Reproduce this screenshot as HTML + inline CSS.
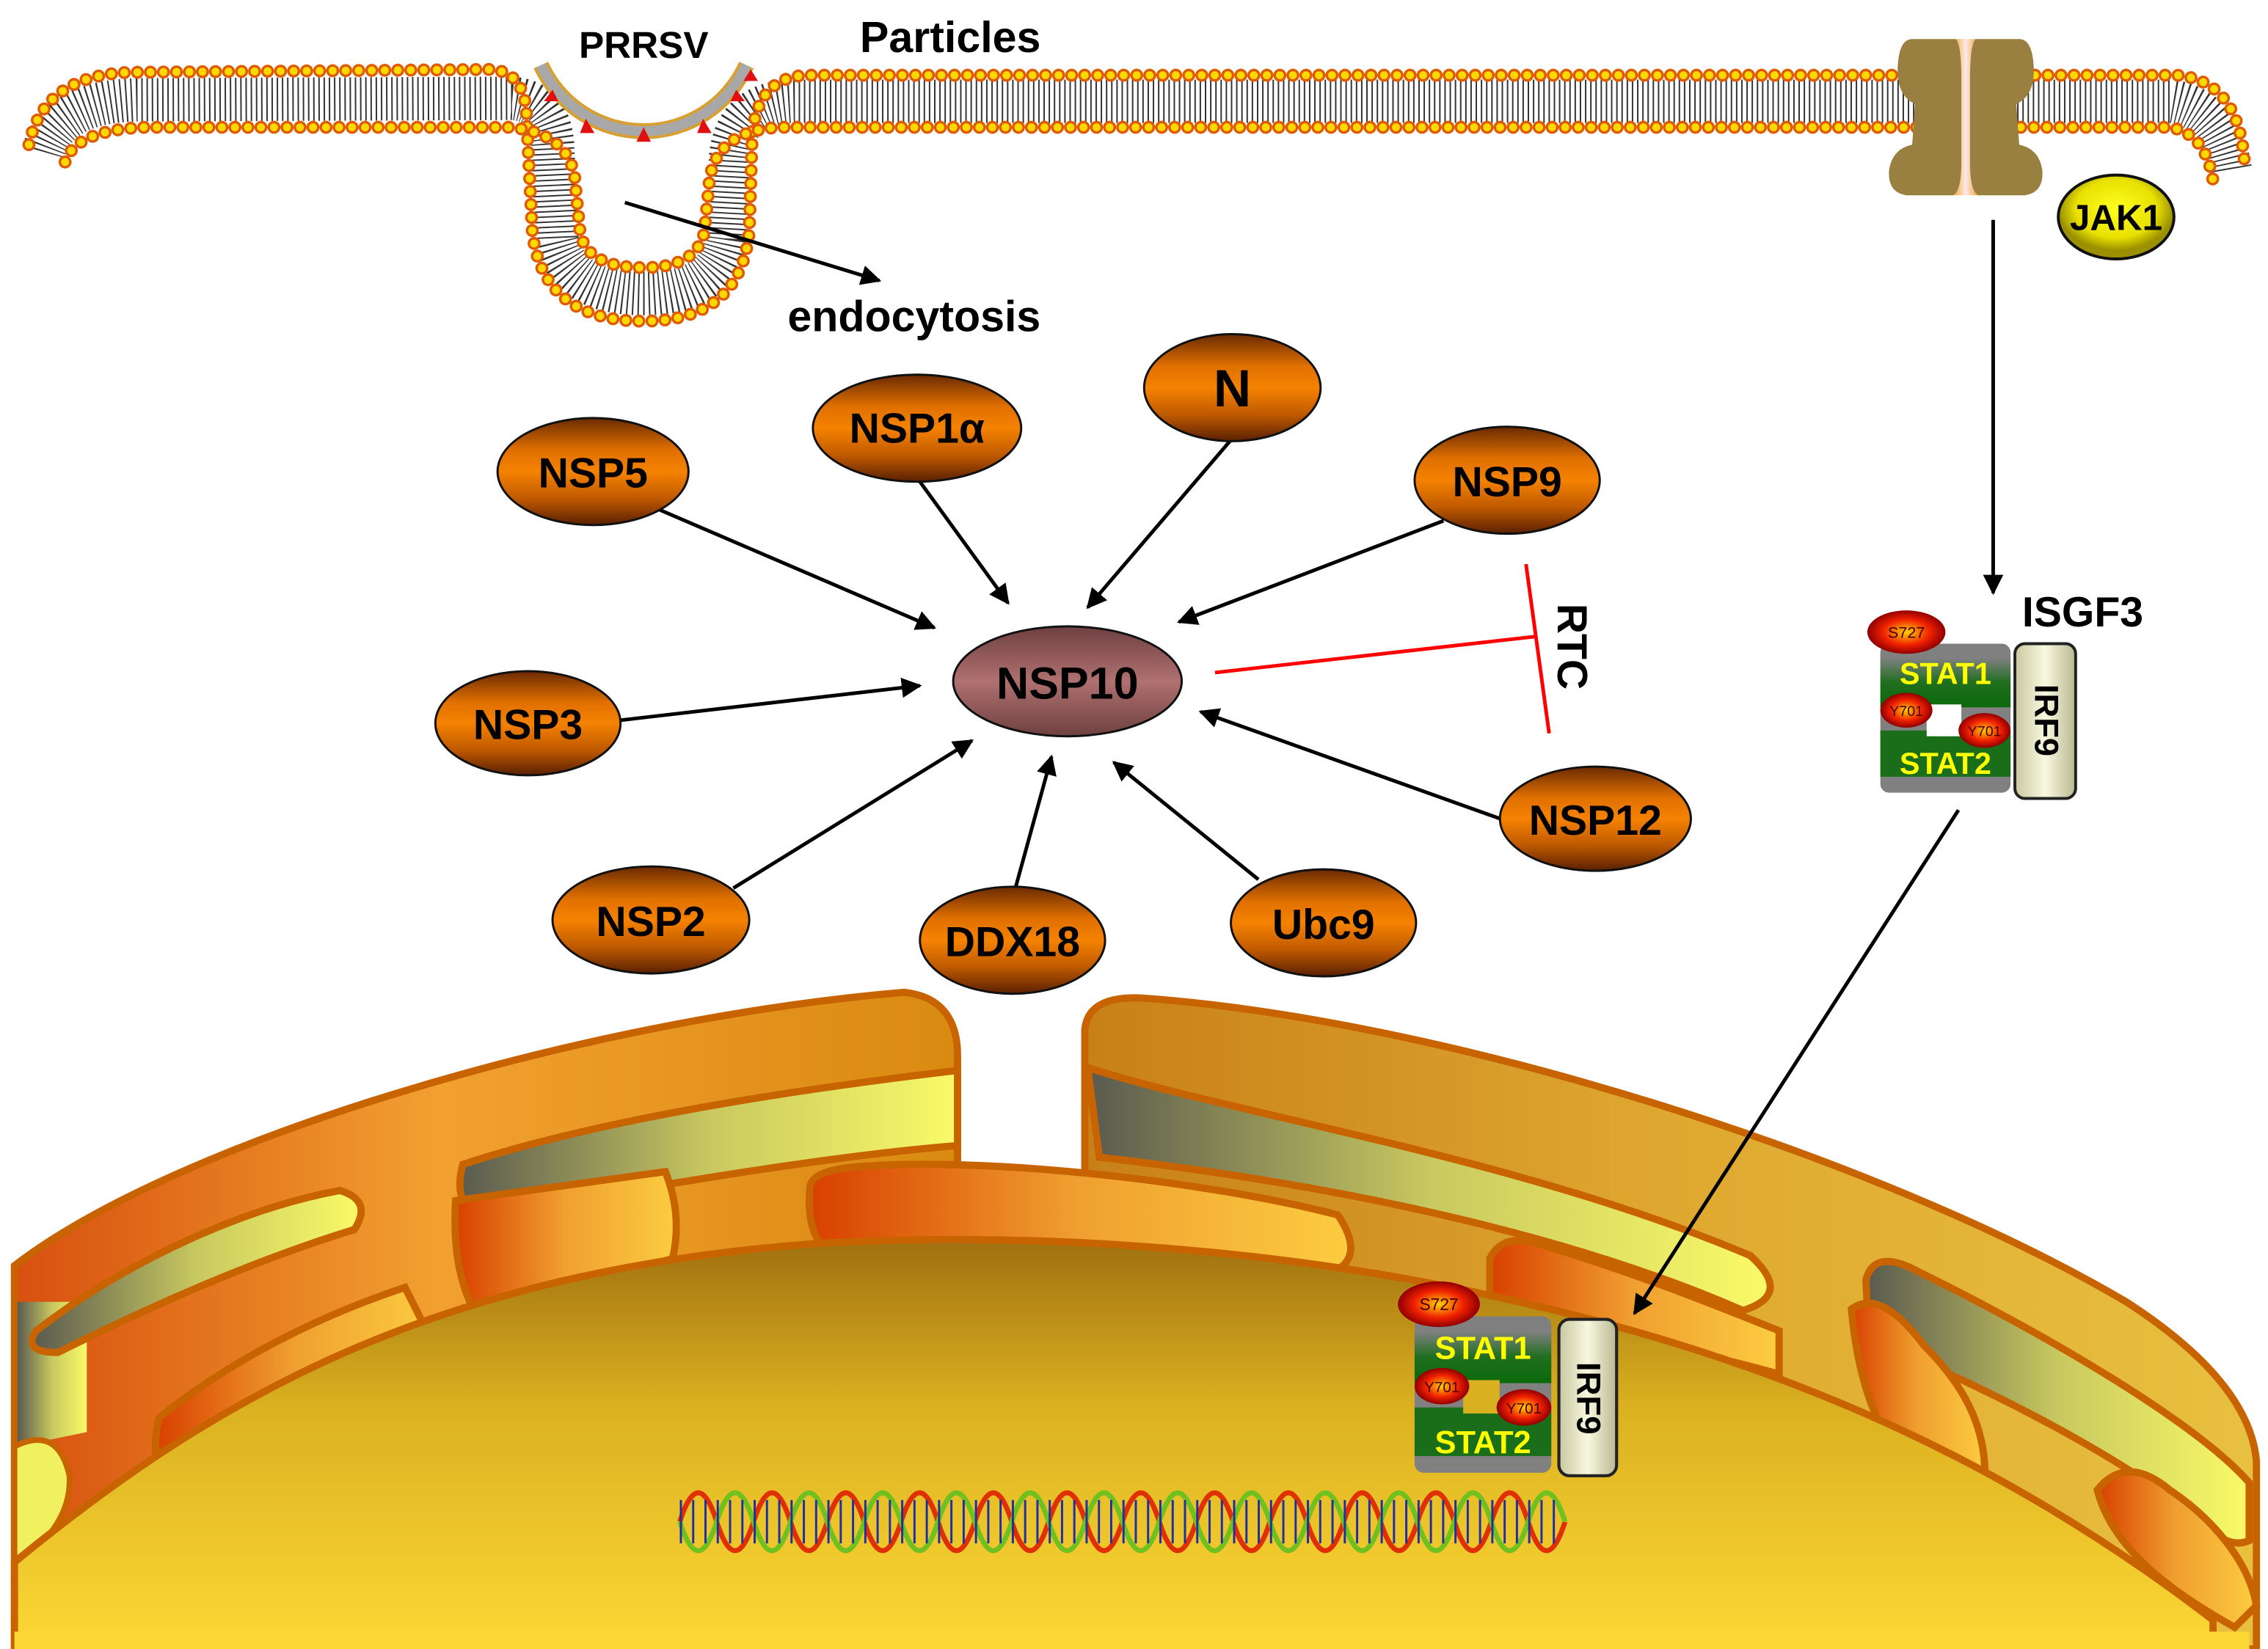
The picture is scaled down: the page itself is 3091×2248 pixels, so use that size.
<!DOCTYPE html>
<html><head><meta charset="utf-8"><style>html,body{margin:0;padding:0;background:#fff}svg{display:block}</style></head>
<body>
<svg width="3091" height="2248" viewBox="0 0 1568 1140" preserveAspectRatio="none" xmlns="http://www.w3.org/2000/svg" font-family="Liberation Sans, sans-serif">
<defs>
<linearGradient id="og" x1="0" y1="0" x2="0" y2="1"><stop offset="0" stop-color="#6a2a00"/><stop offset="0.3" stop-color="#e07000"/><stop offset="0.5" stop-color="#f58200"/><stop offset="0.75" stop-color="#c05a00"/><stop offset="1" stop-color="#5a2000"/></linearGradient>
<linearGradient id="pg" x1="0" y1="0" x2="0" y2="1"><stop offset="0" stop-color="#6e4040"/><stop offset="0.5" stop-color="#b07070"/><stop offset="1" stop-color="#6e4040"/></linearGradient>
<radialGradient id="rg"><stop offset="0" stop-color="#ffd000"/><stop offset="0.6" stop-color="#f02000"/><stop offset="1" stop-color="#900000"/></radialGradient>
<radialGradient id="yg" cx="0.5" cy="0.4"><stop offset="0" stop-color="#ffff20"/><stop offset="0.7" stop-color="#e8e000"/><stop offset="1" stop-color="#9a9000"/></radialGradient>
<linearGradient id="stg" x1="0" y1="0" x2="0" y2="1"><stop offset="0" stop-color="#808080"/><stop offset="0.5" stop-color="#1f6e1f"/><stop offset="1" stop-color="#0a6a0a"/></linearGradient>
<linearGradient id="irf" x1="0" y1="0" x2="1" y2="0"><stop offset="0" stop-color="#c8c8a0"/><stop offset="0.5" stop-color="#f8f8e0"/><stop offset="1" stop-color="#b8b890"/></linearGradient>
<linearGradient id="leftS" x1="0" y1="0" x2="1" y2="0"><stop offset="0" stop-color="#d85010"/><stop offset="0.45" stop-color="#f2a030"/><stop offset="1" stop-color="#d98a10"/></linearGradient>
<linearGradient id="rightS" x1="0" y1="0" x2="1" y2="0"><stop offset="0" stop-color="#c88018"/><stop offset="0.5" stop-color="#dfa830"/><stop offset="1" stop-color="#e8c040"/></linearGradient>
<linearGradient id="slot" x1="0" y1="0" x2="1" y2="0"><stop offset="0" stop-color="#5a5a50"/><stop offset="0.5" stop-color="#c8c860"/><stop offset="1" stop-color="#fafa68"/></linearGradient>
<linearGradient id="lobe" x1="0" y1="0" x2="1" y2="0"><stop offset="0" stop-color="#d84000"/><stop offset="0.5" stop-color="#f0a030"/><stop offset="1" stop-color="#fccc40"/></linearGradient>
<linearGradient id="nuc" x1="0" y1="0" x2="0" y2="1"><stop offset="0" stop-color="#a07010"/><stop offset="0.4" stop-color="#dab020"/><stop offset="1" stop-color="#fdd835"/></linearGradient>
<linearGradient id="chan" x1="0" y1="0" x2="1" y2="0"><stop offset="0" stop-color="#f0a030"/><stop offset="0.5" stop-color="#fde8e8"/><stop offset="1" stop-color="#f0a030"/></linearGradient>
<marker id="ahs" viewBox="0 0 10 10" refX="9" refY="5" markerWidth="14" markerHeight="14" orient="auto" markerUnits="userSpaceOnUse"><path d="M0,0 L10,5 L0,10 Z" fill="#000"/></marker>
</defs>

<!-- ER / nuclear envelope -->
<path d="M10,875 C120,790 400,705 625,686 Q662,690 662,730 L662,1140 L10,1140 Z" fill="url(#leftS)" stroke="#c86400" stroke-width="5"/>
<path d="M750,712 Q752,688 790,690 C1000,705 1300,800 1470,900 Q1555,955 1560,1010 L1560,1140 L750,1140 Z" fill="url(#rightS)" stroke="#c86400" stroke-width="5"/>
<path d="M12,900 L12,1000 L60,990 L60,900 Z" fill="url(#slot)"/>
<path d="M25,920 Q15,935 40,935 C110,900 180,870 245,850 Q258,830 235,823 C170,835 90,870 25,920 Z" fill="url(#slot)" stroke="#c86400" stroke-width="5"/>
<path d="M320,805 Q312,835 335,840 C420,826 560,800 662,792 L662,740 C560,752 420,772 320,805 Z" fill="url(#slot)" stroke="#c86400" stroke-width="5"/>
<path d="M752,738 C850,770 1050,800 1210,868 Q1240,895 1205,906 C1100,860 950,822 760,800 Z" fill="url(#slot)" stroke="#c86400" stroke-width="5"/>
<path d="M1290,885 Q1295,865 1320,876 C1420,925 1520,985 1555,1025 L1555,1065 Q1540,1072 1520,1050 C1450,995 1350,950 1292,925 Z" fill="url(#slot)" stroke="#c86400" stroke-width="5"/>
<path d="M315,830 L460,810 Q472,840 465,870 L330,910 Q312,880 315,830 Z" fill="url(#lobe)" stroke="#c86400" stroke-width="5"/>
<path d="M110,980 C160,940 220,910 280,890 L300,930 C230,960 170,1000 130,1040 Q100,1020 110,980 Z" fill="url(#lobe)" stroke="#c86400" stroke-width="5"/>
<path d="M560,820 Q562,808 600,806 C700,800 850,820 925,840 Q945,870 920,880 C850,870 700,860 600,870 Q555,875 560,820 Z" fill="url(#lobe)" stroke="#c86400" stroke-width="5"/>
<path d="M1030,870 Q1040,850 1070,862 C1130,880 1180,900 1230,920 L1230,950 C1160,930 1090,920 1030,900 Z" fill="url(#lobe)" stroke="#c86400" stroke-width="5"/>
<path d="M1280,905 Q1300,890 1330,930 C1360,960 1375,990 1372,1030 Q1360,1045 1335,1030 C1300,1000 1285,960 1280,905 Z" fill="url(#lobe)" stroke="#c86400" stroke-width="5"/>
<path d="M1450,1030 Q1470,1005 1500,1030 C1530,1050 1555,1080 1560,1110 L1545,1125 C1500,1100 1460,1070 1450,1030 Z" fill="url(#lobe)" stroke="#c86400" stroke-width="5"/>
<path d="M10,1000 Q40,985 48,1020 Q50,1050 20,1075 L10,1078 Z" fill="#f0f060" stroke="#c86400" stroke-width="4"/>
<path d="M10,1080 C150,965 300,880 560,860 C720,850 900,865 1050,900 C1250,945 1400,1020 1530,1120 L1530,1140 L10,1140 Z" fill="url(#nuc)" stroke="#c86400" stroke-width="5"/>
<rect x="10" y="1128" width="1545" height="12" fill="#fdd835"/>

<!-- DNA -->
<g fill="none" stroke-width="3.5">
<path d="M470,1052 q12.75,-40 25.5,0 t25.5,0 t25.5,0 t25.5,0 t25.5,0 t25.5,0 t25.5,0 t25.5,0 t25.5,0 t25.5,0 t25.5,0 t25.5,0 t25.5,0 t25.5,0 t25.5,0 t25.5,0 t25.5,0 t25.5,0 t25.5,0 t25.5,0 t25.5,0 t25.5,0 t25.5,0 t25.5,0" stroke="#e03000"/>
<path d="M470,1052 q12.75,40 25.5,0 t25.5,0 t25.5,0 t25.5,0 t25.5,0 t25.5,0 t25.5,0 t25.5,0 t25.5,0 t25.5,0 t25.5,0 t25.5,0 t25.5,0 t25.5,0 t25.5,0 t25.5,0 t25.5,0 t25.5,0 t25.5,0 t25.5,0 t25.5,0 t25.5,0 t25.5,0 t25.5,0" stroke="#70c020"/>
<line x1="470" y1="1052" x2="1080" y2="1052" stroke="#2030a0" stroke-width="30" stroke-dasharray="1.5 7"/>
</g>

<!-- Membrane -->
<g fill="none">
<path d="M30,105 Q40,70 95,69 L354,68 Q380,70 382,100 L385,165 Q392,203 445,203 Q497,203 502,165 L505,110 Q508,70 550,70 L1500,70 Q1535,74 1542,118" stroke="#333" stroke-width="30" stroke-dasharray="1 2.6"/>
<path d="M20,100 Q30,52 90,50 L340,48 Q363,50 364,80 L368,160 Q375,222 445,222 Q512,222 518,160 L520,95 Q523,52 560,52 L1505,52 Q1550,56 1552,118" stroke="#e05a00" stroke-width="9" stroke-linecap="round" stroke-dasharray="0 9"/>
<path d="M20,100 Q30,52 90,50 L340,48 Q363,50 364,80 L368,160 Q375,222 445,222 Q512,222 518,160 L520,95 Q523,52 560,52 L1505,52 Q1550,56 1552,118" stroke="#ffd800" stroke-width="5.5" stroke-linecap="round" stroke-dasharray="0 9"/>
<path d="M45,112 Q52,90 100,88 L352,88 Q397,92 398,130 L401,160 Q405,185 445,185 Q482,185 487,160 L490,130 Q492,90 540,88 L1500,88 Q1525,92 1530,125" stroke="#e05a00" stroke-width="9" stroke-linecap="round" stroke-dasharray="0 9"/>
<path d="M45,112 Q52,90 100,88 L352,88 Q397,92 398,130 L401,160 Q405,185 445,185 Q482,185 487,160 L490,130 Q492,90 540,88 L1500,88 Q1525,92 1530,125" stroke="#ffd800" stroke-width="5.5" stroke-linecap="round" stroke-dasharray="0 9"/>
</g>
<rect x="365" y="0" width="160" height="44" fill="#fff"/>
<path d="M374,45 A78,78 0 0 0 516,45" fill="none" stroke="#d8a030" stroke-width="11"/>
<path d="M374,45 A78,78 0 0 0 516,45" fill="none" stroke="#a8a8a8" stroke-width="7"/>
<g fill="#e01010"><path d="M382,62 l-6,8 h10z"/><path d="M405,82 l-4,10 h10z"/><path d="M445,88 l-5,10 h10z"/><path d="M486,82 l-4,10 h10z"/><path d="M509,62 l-4,8 h10z"/><path d="M519,48 l-5,8 h10z"/></g>

<!-- channel -->
<rect x="1350" y="27" width="18" height="108" fill="url(#chan)"/>
<path d="M1322,27 L1352,27 Q1356,30 1356,55 L1356,112 Q1356,133 1350,135 L1318,135 Q1305,133 1306,118 Q1308,103 1322,100 L1324,72 Q1311,66 1312,46 Q1313,27 1322,27 Z" fill="#9a8040"/>
<path d="M1396,27 L1366,27 Q1362,30 1362,55 L1362,112 Q1362,133 1368,135 L1400,135 Q1413,133 1412,118 Q1410,103 1396,100 L1394,72 Q1407,66 1406,46 Q1405,27 1396,27 Z" fill="#9a8040"/>
<ellipse cx="1463" cy="150" rx="40" ry="29" fill="url(#yg)" stroke="#111" stroke-width="2"/>
<text x="1463" y="159" font-size="25" font-weight="bold" text-anchor="middle">JAK1</text>

<text x="445" y="40" font-size="26" font-weight="bold" text-anchor="middle">PRRSV</text>
<text x="657" y="36" font-size="30" font-weight="bold" text-anchor="middle">Particles</text>
<text x="632" y="229" font-size="30" font-weight="bold" text-anchor="middle">endocytosis</text>
<line x1="432" y1="140" x2="608" y2="194" stroke="#000" stroke-width="2.5" marker-end="url(#ahs)"/>

<g stroke="#000" stroke-width="2.5" marker-end="url(#ahs)">
<line x1="455" y1="352" x2="646" y2="434"/>
<line x1="636" y1="333" x2="697" y2="417"/>
<line x1="852" y1="303" x2="752" y2="420"/>
<line x1="998" y1="360" x2="815" y2="430"/>
<line x1="428" y1="498" x2="636" y2="474"/>
<line x1="1040" y1="567" x2="830" y2="492"/>
<line x1="507" y1="614" x2="672" y2="512"/>
<line x1="702" y1="614" x2="727" y2="523"/>
<line x1="870" y1="608" x2="770" y2="527"/>
<line x1="1378" y1="152" x2="1378" y2="410"/>
<line x1="1354" y1="560" x2="1130" y2="908"/>
</g>
<g stroke="#f00" stroke-width="2.5"><line x1="840" y1="465" x2="1062" y2="440"/><line x1="1055" y1="390" x2="1071" y2="507"/></g>
<text transform="translate(1077,447) rotate(90)" font-size="29" font-weight="bold" text-anchor="middle">RTC</text>

<g stroke="#111" stroke-width="1.5" fill="url(#og)">
<ellipse cx="410" cy="326" rx="66" ry="37"/>
<ellipse cx="634" cy="296" rx="72" ry="37"/>
<ellipse cx="852" cy="268" rx="61" ry="37"/>
<ellipse cx="1042" cy="332" rx="64" ry="37"/>
<ellipse cx="365" cy="500" rx="64" ry="36"/>
<ellipse cx="1103" cy="566" rx="66" ry="36"/>
<ellipse cx="450" cy="636" rx="68" ry="37"/>
<ellipse cx="700" cy="650" rx="64" ry="37"/>
<ellipse cx="915" cy="638" rx="64" ry="37"/>
<ellipse cx="738" cy="471" rx="79" ry="38" fill="url(#pg)"/>
</g>
<g font-size="29" font-weight="bold" text-anchor="middle">
<text x="410" y="337">NSP5</text>
<text x="634" y="306">NSP1α</text>
<text x="852" y="281" font-size="36">N</text>
<text x="1042" y="343">NSP9</text>
<text x="365" y="511">NSP3</text>
<text x="1103" y="577">NSP12</text>
<text x="450" y="647">NSP2</text>
<text x="700" y="661">DDX18</text>
<text x="915" y="649">Ubc9</text>
<text x="738" y="483" font-size="31">NSP10</text>
</g>

<text x="1398" y="433" font-size="29" font-weight="bold">ISGF3</text>

<g transform="translate(1300,445)">
<rect x="0" y="0" width="90" height="103" rx="6" fill="#808080"/>
<rect x="0" y="10" width="90" height="34" fill="url(#stg)"/>
<rect x="0" y="60" width="90" height="32" fill="#1a6e1a"/>
<rect x="32" y="42" width="24" height="22" fill="#fff"/>
<text x="45" y="28" font-size="21" font-weight="bold" fill="#ffff00" text-anchor="middle">STAT1</text>
<text x="45" y="90" font-size="21" font-weight="bold" fill="#ffff00" text-anchor="middle">STAT2</text>
<ellipse cx="18" cy="46" rx="18" ry="12" fill="url(#rg)"/><text x="18" y="50" font-size="10" text-anchor="middle" fill="#400">Y701</text>
<ellipse cx="72" cy="60" rx="18" ry="12" fill="url(#rg)"/><text x="72" y="64" font-size="10" text-anchor="middle" fill="#400">Y701</text>
<ellipse cx="18" cy="-8" rx="27" ry="15" fill="url(#rg)"/><text x="18" y="-4" font-size="11" text-anchor="middle" fill="#400">S727</text>
<rect x="93" y="0" width="42" height="107" rx="7" fill="url(#irf)" stroke="#222" stroke-width="2"/>
<text transform="translate(107,53) rotate(90)" font-size="23" font-weight="bold" text-anchor="middle">IRF9</text>
</g>
<g transform="translate(978,910) scale(1.05)">
<rect x="0" y="0" width="90" height="103" rx="6" fill="#808080"/>
<rect x="0" y="10" width="90" height="34" fill="url(#stg)"/>
<rect x="0" y="60" width="90" height="32" fill="#1a6e1a"/>
<rect x="32" y="42" width="24" height="22" fill="#d8b020"/>
<text x="45" y="28" font-size="21" font-weight="bold" fill="#ffff00" text-anchor="middle">STAT1</text>
<text x="45" y="90" font-size="21" font-weight="bold" fill="#ffff00" text-anchor="middle">STAT2</text>
<ellipse cx="18" cy="46" rx="18" ry="12" fill="url(#rg)"/><text x="18" y="50" font-size="10" text-anchor="middle" fill="#400">Y701</text>
<ellipse cx="72" cy="60" rx="18" ry="12" fill="url(#rg)"/><text x="72" y="64" font-size="10" text-anchor="middle" fill="#400">Y701</text>
<ellipse cx="16" cy="-8" rx="27" ry="15" fill="url(#rg)"/><text x="16" y="-4" font-size="11" text-anchor="middle" fill="#400">S727</text>
<rect x="95" y="2" width="38" height="103" rx="7" fill="url(#irf)" stroke="#222" stroke-width="2"/>
<text transform="translate(107,54) rotate(90)" font-size="22" font-weight="bold" text-anchor="middle">IRF9</text>
</g>
</svg>
</body></html>
